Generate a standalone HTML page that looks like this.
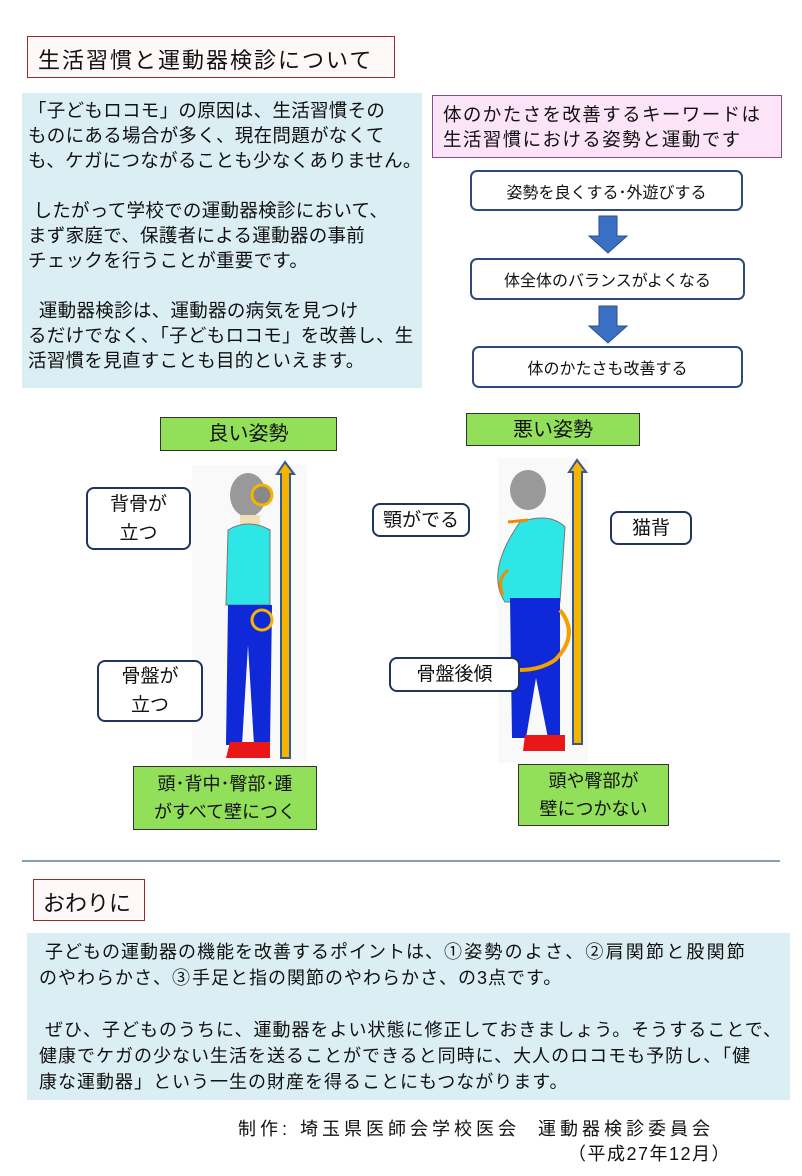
<!DOCTYPE html>
<html><head><meta charset="utf-8"><style>
body{margin:0;width:802px;height:1176px;background:#fff;position:relative;font-family:"Liberation Sans","Noto Sans CJK JP",sans-serif;color:#111;overflow:hidden}
.a{position:absolute;box-sizing:border-box;white-space:nowrap}
.fl{border:2px solid #2f4a78;border-radius:7px;background:#fff;display:flex;align-items:center;justify-content:center;font-size:16px}
.lb{border:2px solid #1f3560;border-radius:8px;background:#fff;display:flex;align-items:center;justify-content:center;text-align:center;font-size:19px;line-height:29px}
.gr{background:#92e05a;border:1px solid #333;display:flex;align-items:center;justify-content:center;font-size:18px;text-align:center;line-height:28px}
</style></head><body>
<div class="a" style="left:27px;top:36px;width:368px;height:42px;border:1px solid #9b2b2b;background:#fff8f8;font-size:22px;letter-spacing:2px;padding:6px 0 0 10px">生活習慣と運動器検診について</div>
<div class="a" style="left:22px;top:93px;width:400px;height:295px;background:#dbeef4;font-size:18.5px;letter-spacing:0.3px;line-height:25px;padding:5px 0 0 6px">「子どもロコモ」の原因は、生活習慣その<br>ものにある場合が多く、現在問題がなくて<br>も、ケガにつながることも少なくありません。<br><br>&nbsp;したがって学校での運動器検診において、<br>まず家庭で、保護者による運動器の事前<br>チェックを行うことが重要です。<br><br>&nbsp;&nbsp;運動器検診は、運動器の病気を見つけ<br>るだけでなく、「子どもロコモ」を改善し、生<br>活習慣を見直すことも目的といえます。</div>
<div class="a" style="left:432px;top:95px;width:350px;height:63px;border:1px solid #8a4a9a;background:#fce4f8;font-size:18.5px;letter-spacing:1.4px;line-height:25px;padding:6px 10px">体のかたさを改善するキーワードは<br>生活習慣における姿勢と運動です</div>
<div class="a fl" style="left:470px;top:170px;width:273px;height:41px">姿勢を良くする･外遊びする</div>
<div class="a fl" style="left:470px;top:258px;width:275px;height:42px">体全体のバランスがよくなる</div>
<div class="a fl" style="left:472px;top:346px;width:271px;height:42px">体のかたさも改善する</div>
<svg class="a" style="left:0;top:0" width="802" height="1176">
<g fill="#3b6fc4" stroke="#2a4f8f">
<path d="M599 216h18v20h10l-19 17-19-17h10z"/><path d="M599 306h18v20h10l-19 17-19-17h10z"/></g>
<line x1="22" y1="861" x2="780" y2="861" stroke="#5a7fa8" stroke-width="1.5"/>
<rect x="192" y="465" width="115" height="297" fill="#f9f9f9"/>
<path d="M277 474l8-12 9 12h-4v284h-9V474z" fill="#f5b400" stroke="#3a5a8a" stroke-width="2"/>
<ellipse cx="248" cy="495" rx="18" ry="22" fill="#999"/>
<path d="M240 515h20v10h-20z" fill="#f2dfb5"/>
<path d="M228 530q20-12 42 0l0 75h-44z" fill="#2ee6e6" stroke="#777"/>
<path d="M228 605h44l-2 140h-16l-6-100-6 100h-16z" fill="#0f28d8"/>
<path d="M230 742h40v16h-44z" fill="#e81818"/>
<circle cx="262" cy="495" r="10" fill="#888" stroke="#f5b400" stroke-width="3"/>
<circle cx="262" cy="620" r="10" fill="#0f28d8" stroke="#f5b400" stroke-width="3"/>
<rect x="498" y="458" width="90" height="305" fill="#f9f9f9"/>
<path d="M569 472l8-12 9 12h-4v272h-9V472z" fill="#f5b400" stroke="#3a5a8a" stroke-width="2"/>
<ellipse cx="528" cy="490" rx="18" ry="20" fill="#999"/>
<path d="M520 522q30-10 45 5l-5 75h-55q-20-30 15-80z" fill="#2ee6e6" stroke="#777"/>
<path d="M510 598h50l0 140h-12l-12-60-10 60h-14z" fill="#0f28d8"/>
<path d="M525 735h40v16h-42z" fill="#e81818"/>
<path d="M560 610q20 25-5 50q-15 10-35 10" fill="none" stroke="#f5a000" stroke-width="4"/>
<path d="M528 520l-20 2" stroke="#f08c00" stroke-width="3"/>
<path d="M508 570q-12 10-5 25" fill="none" stroke="#f08c00" stroke-width="3"/>
</svg>
<div class="a gr" style="left:160px;top:417px;width:177px;height:34px;font-size:20px">良い姿勢</div>
<div class="a gr" style="left:466px;top:413px;width:174px;height:33px;font-size:20px">悪い姿勢</div>
<div class="a lb" style="left:86px;top:487px;width:105px;height:63px">背骨が<br>立つ</div>
<div class="a lb" style="left:97px;top:660px;width:106px;height:62px">骨盤が<br>立つ</div>
<div class="a gr" style="left:133px;top:766px;width:184px;height:64px;font-size:18px">頭･背中･臀部･踵<br>がすべて壁につく</div>
<div class="a lb" style="left:372px;top:503px;width:98px;height:34px">顎がでる</div>
<div class="a lb" style="left:610px;top:511px;width:82px;height:34px">猫背</div>
<div class="a lb" style="left:389px;top:657px;width:131px;height:35px">骨盤後傾</div>
<div class="a gr" style="left:518px;top:764px;width:151px;height:62px;font-size:18px">頭や臀部が<br>壁につかない</div>
<div class="a" style="left:33px;top:879px;width:112px;height:42px;border:1px solid #9b2b2b;background:#fff8f8;font-size:22px;padding:6px 0 0 9px">おわりに</div>
<div class="a" style="left:27px;top:933px;width:763px;height:167px;background:#dbeef4;font-size:18px;letter-spacing:1px;line-height:26px;padding:6px 0 0 12px">&nbsp;子どもの運動器の機能を改善するポイントは、<span style="letter-spacing:2.2px">①姿勢のよさ、②肩関節と股関節</span><br>のやわらかさ、<span style="letter-spacing:2px">③</span>手足と指の関節のやわらかさ、の3点です。<br><br>&nbsp;ぜひ、子どものうちに、運動器をよい状態に修正しておきましょう。そうすることで、<br>健康でケガの少ない生活を送ることができると同時に、大人のロコモも予防し、「健<br>康な運動器」という一生の財産を得ることにもつながります。</div>
<div class="a" style="left:238px;top:1115px;font-size:18px;letter-spacing:4px">制作: 埼玉県医師会学校医会&nbsp;&nbsp;運動器検診委員会</div>
<div class="a" style="left:568px;top:1140px;font-size:18px;letter-spacing:1.5px">（平成27年12月）</div>
</body></html>
